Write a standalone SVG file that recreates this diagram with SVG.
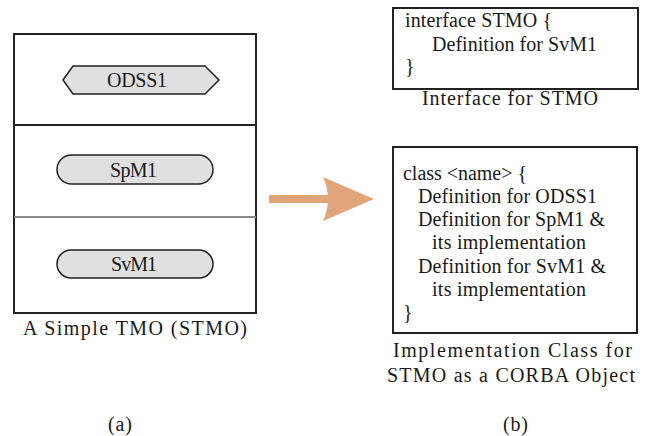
<svg xmlns="http://www.w3.org/2000/svg" width="647" height="436" viewBox="0 0 647 436">
<style>
text{font-family:"Liberation Serif","Times New Roman",serif;font-size:20px;fill:#1a1a1a}
.box{fill:#fff;stroke:#222;stroke-width:2}
.pill{fill:#e0e0e0;stroke:#222;stroke-width:1.5}
.mid{text-anchor:middle}
</style>
<rect width="647" height="436" fill="#fff"/>
<g id="stmo">
<rect class="box" x="14" y="34" width="242" height="279"/>
<line x1="14" y1="125" x2="256" y2="125" stroke="#222" stroke-width="2"/>
<line x1="14" y1="217" x2="256" y2="217" stroke="#8a8a8a" stroke-width="2"/>
<text x="23" y="335" textLength="224" lengthAdjust="spacing">A Simple TMO (STMO)</text>
</g>
<g id="odss1">
<polygon class="pill" points="63,80 73,66 205,66 219,80 205,94 73,94"/>
<text x="107" y="87" textLength="60" lengthAdjust="spacing">ODSS1</text>
</g>
<g id="spm1">
<rect class="pill" x="57" y="155" width="156" height="29" rx="14.5"/>
<text x="110" y="177" textLength="47" lengthAdjust="spacing">SpM1</text>
</g>
<g id="svm1">
<rect class="pill" x="57" y="250" width="156" height="28" rx="14"/>
<text x="111" y="271" textLength="46" lengthAdjust="spacing">SvM1</text>
</g>
<g id="connectors">
<rect x="269" y="195" width="61" height="8" fill="#e2a479"/>
<path d="M323,177 L374,199 L323,221 Q333,199 323,177 Z" fill="#e2a479"/>
</g>
<g id="interface">
<rect class="box" x="393" y="8" width="245" height="81"/>
<text x="405" y="27" textLength="147" lengthAdjust="spacing">interface STMO {</text>
<text x="432" y="51" textLength="165" lengthAdjust="spacing">Definition for SvM1</text>
<text x="405" y="73">}</text>
<text x="422" y="105" textLength="176" lengthAdjust="spacing">Interface for STMO</text>
</g>
<g id="implclass">
<rect class="box" x="393" y="147" width="244" height="186"/>
<text x="403" y="180" textLength="124" lengthAdjust="spacing">class &lt;name&gt; {</text>
<text x="418" y="203" textLength="179" lengthAdjust="spacing">Definition for ODSS1</text>
<text x="418" y="226" textLength="187" lengthAdjust="spacing">Definition for SpM1 &amp;</text>
<text x="432" y="249" textLength="154" lengthAdjust="spacing">its implementation</text>
<text x="418" y="273" textLength="188" lengthAdjust="spacing">Definition for SvM1 &amp;</text>
<text x="432" y="296" textLength="154" lengthAdjust="spacing">its implementation</text>
<text x="403" y="319">}</text>
<text x="393" y="357" textLength="239" lengthAdjust="spacing">Implementation Class  for</text>
<text x="387" y="382" textLength="248" lengthAdjust="spacing">STMO as a CORBA Object</text>
</g>
<text x="108" y="431" textLength="24" lengthAdjust="spacing">(a)</text>
<text x="503" y="431" textLength="25" lengthAdjust="spacing">(b)</text>
</svg>
